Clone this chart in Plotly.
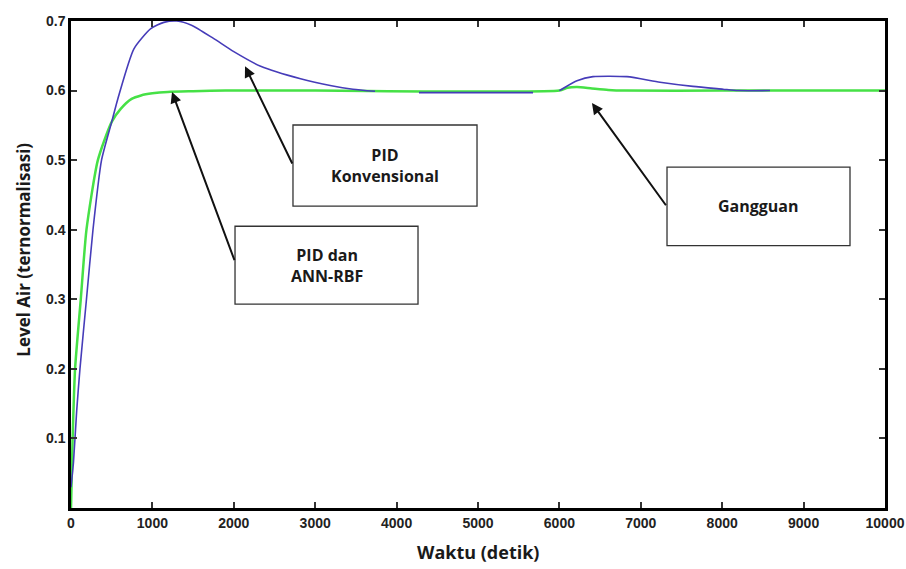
import plotly.graph_objects as go

# ---- data ----
# PID Konvensional (blue), with gaps where the original plot shows none
blue_t = [0, 30, 70, 110, 190, 270, 375, 500, 575, 773, 980, 1140, 1300, 1480, 1750, 2000,
          2330, 2820, 3200, 3464, 3735, None,
          4275, 5676, None,
          6000, 6030, 6216, 6413, 6830, 7236, 7641, 8010, 8194, 8587]
blue_v = [0.03, 0.065, 0.14, 0.2, 0.3, 0.4, 0.5, 0.555, 0.588, 0.66, 0.689, 0.698, 0.700, 0.694, 0.675, 0.656,
          0.635, 0.617, 0.607, 0.602, 0.599, None,
          0.597, 0.597, None,
          0.600, 0.602, 0.614, 0.620, 0.620, 0.612, 0.606, 0.602, 0.600, 0.600]

# PID dan ANN-RBF (green)
green_t = [0, 20, 50, 120, 190, 330, 500, 613, 745, 860, 1000, 1190, 1500, 1900, 3000, 6000,
           6100, 6216, 6400, 6600, 6800, 8000, 10000]
green_v = [0.0, 0.1, 0.2, 0.3, 0.4, 0.5, 0.555, 0.574, 0.588, 0.593, 0.596, 0.598, 0.599, 0.600, 0.600, 0.600,
           0.604, 0.605, 0.603, 0.601, 0.600, 0.600, 0.600]

x_ticks = [0, 1000, 2000, 3000, 4000, 5000, 6000, 7000, 8000, 9000, 10000]
y_ticks = [0.1, 0.2, 0.3, 0.4, 0.5, 0.6, 0.7]

labels = ["PID<br>Konvensional", "PID dan<br>ANN-RBF", "Gangguan"]

fig = go.Figure()
fig.add_trace(go.Scatter(x=green_t, y=green_v, mode="lines",
                         line=dict(color="rgb(70,225,70)", width=2.5, shape="spline", smoothing=0.6),
                         connectgaps=False, showlegend=False))
fig.add_trace(go.Scatter(x=blue_t, y=blue_v, mode="lines",
                         line=dict(color="rgb(70,60,185)", width=1.6, shape="spline", smoothing=0.6),
                         connectgaps=False, showlegend=False))

tickfont = dict(family="Liberation Sans", size=14, color="#222", weight="bold")
axis_common = dict(showline=True, linecolor="black", linewidth=2.5, mirror="ticks", ticks="inside",
                   ticklen=6, tickwidth=1.5, tickcolor="#333", showgrid=False, zeroline=False,
                   tickfont=tickfont, automargin=False)
fig.update_xaxes(range=[0, 10000], tickvals=x_ticks, ticktext=[str(v) for v in x_ticks], **axis_common)
fig.update_yaxes(range=[0, 0.7], tickvals=y_ticks, ticktext=[f"{v:.1f}" for v in y_ticks], **axis_common)

boxes = [(2727, 4988, 0.434, 0.5505), (2015, 4263, 0.293, 0.405), (7322, 9570, 0.377, 0.490)]
for (x0, x1, y0, y1), lab in zip(boxes, labels):
    fig.add_shape(type="rect", x0=x0, x1=x1, y0=y0, y1=y1, xref="x", yref="y",
                  line=dict(color="#333", width=1.3), fillcolor="white", layer="above")
    fig.add_annotation(x=(x0 + x1) / 2, y=(y0 + y1) / 2, xref="x", yref="y", text=lab, showarrow=False,
                       font=dict(family="Open Sans", size=16, color="#1a1a1a", weight="bold"), align="center")

arrows = [((2138, 0.635), (2727, 0.493)), ((1241, 0.598), (2015, 0.354)), ((6400, 0.582), (7322, 0.433))]
for (hx, hy), (tx, ty) in arrows:
    fig.add_annotation(x=hx, y=hy, ax=tx, ay=ty, xref="x", yref="y", axref="x", ayref="y", text="",
                       showarrow=True, arrowhead=2, arrowsize=1.1, arrowwidth=2, arrowcolor="#111")

fig.add_annotation(text="Waktu (detik)", xref="paper", yref="paper", x=0.5, y=-0.09, yanchor="middle",
                   showarrow=False, font=dict(family="Open Sans", size=18, color="#1a1a1a", weight="bold"))
fig.add_annotation(text="Level Air (ternormalisasi)", xref="paper", yref="paper", x=-0.058, y=0.53,
                   xanchor="center", yanchor="middle", textangle=-90, showarrow=False,
                   font=dict(family="Open Sans", size=17, color="#1a1a1a", weight="bold"))

fig.update_layout(width=906, height=569, margin=dict(l=71, r=21, t=21, b=61),
                  paper_bgcolor="white", plot_bgcolor="white")
fig.write_html("out.html", config={"displayModeBar": False},
               post_script="document.body.style.margin='0';document.body.style.overflow='hidden';")
